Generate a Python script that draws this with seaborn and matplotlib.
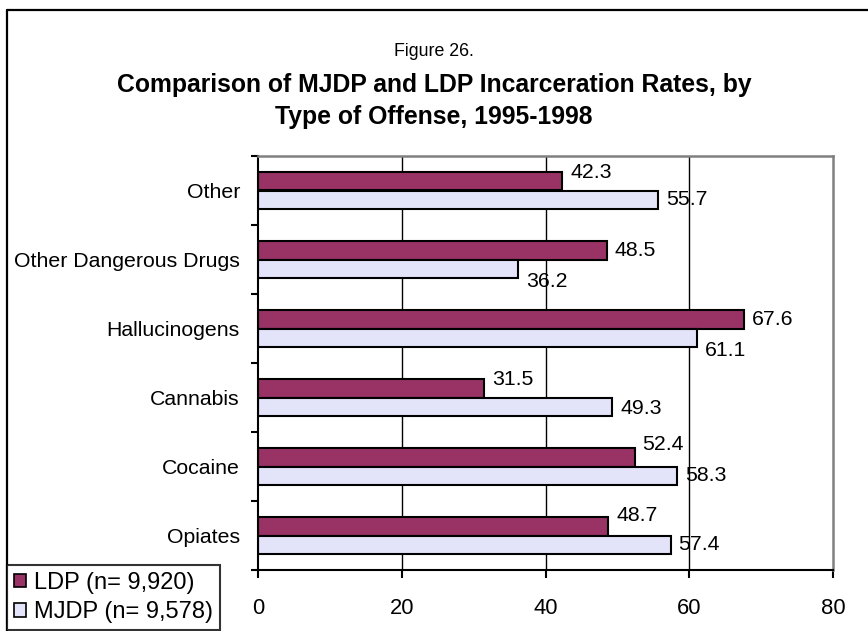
import matplotlib
matplotlib.use("Agg")
import matplotlib.pyplot as plt
from matplotlib.lines import Line2D
from matplotlib.ticker import FixedLocator
import pandas as pd
import seaborn as sns

# Incarceration rates (%) by type of offense
offenses = ["Other", "Other Dangerous Drugs", "Hallucinogens",
            "Cannabis", "Cocaine", "Opiates"]
ldp_rates = [42.3, 48.5, 67.6, 31.5, 52.4, 48.7]
mjdp_rates = [55.7, 36.2, 61.1, 49.3, 58.3, 57.4]
series_names = ["LDP (n= 9,920)", "MJDP (n= 9,578)"]
x_ticks = [0, 20, 40, 60, 80]

# vertical nudges (pixels, down is positive) that keep value labels apart
ldp_label_shift = [-9, 0, 0, -9, -13, -11]
mjdp_label_shift = [0, 13, 13, 2, 0, 0]

df = pd.DataFrame({
    "Offense": offenses * 2,
    "Rate": ldp_rates + mjdp_rates,
    "Program": [series_names[0]] * len(offenses) + [series_names[1]] * len(offenses),
})

sns.set_theme(style="white")
plt.rcParams["font.family"] = ["Liberation Sans", "DejaVu Sans"]
plt.rcParams.update({"text.color": "black", "axes.labelcolor": "black",
                     "xtick.color": "black", "ytick.color": "black"})

W, H = 868, 631
fig = plt.figure(figsize=(W / 100, H / 100), dpi=100)
ax = fig.add_axes([258 / W, 1 - 570 / H, (833 - 258) / W, (570 - 156) / H])

palette = {series_names[0]: "#993366", series_names[1]: "#E3E3FA"}
sns.barplot(data=df, y="Offense", x="Rate", hue="Program", order=offenses,
            hue_order=series_names, palette=palette, orient="h", width=0.55,
            edgecolor="black", linewidth=1.5, saturation=1, ax=ax)

handles, labels = ax.get_legend_handles_labels()
if ax.get_legend() is not None:
    ax.get_legend().remove()

ax.set_xlim(0, 80)
ax.set_ylim(len(offenses) - 0.5, -0.5)
ax.set_xticks(x_ticks)
ax.set_xticklabels([str(t) for t in x_ticks], fontsize=15.8)
ax.set_xlabel("")
ax.set_ylabel("")
ax.tick_params(axis="y", which="major", length=0, pad=13, labelsize=15.3,
               labelcolor="black")
ax.yaxis.set_minor_locator(FixedLocator([i - 0.5 for i in range(len(offenses) + 1)]))
ax.tick_params(axis="y", which="minor", left=True, length=5, width=1.5,
               direction="out", color="black")
ax.tick_params(axis="x", which="major", bottom=True, length=6, width=1.5,
               direction="out", color="black", pad=14, labelcolor="black")

for g in x_ticks[1:-1]:
    ax.axvline(g, color="black", lw=1.0, zorder=0)

for side in ("left", "bottom"):
    ax.spines[side].set_color("black")
    ax.spines[side].set_linewidth(1.5)
for side in ("top", "right"):
    ax.spines[side].set_color("#808080")
    ax.spines[side].set_linewidth(1.8)

# value labels to the right of each bar
for container, values, shifts in zip(ax.containers, [ldp_rates, mjdp_rates],
                                     [ldp_label_shift, mjdp_label_shift]):
    for bar, v, s in zip(container.patches, values, shifts):
        yc = bar.get_y() + bar.get_height() / 2
        ax.annotate(f"{v:.1f}", xy=(v, yc), xytext=(8, -s),
                    textcoords="offset pixels", ha="left", va="center",
                    fontsize=15.3, color="black")

# titles
xc = 0.5 * (117 + 751) / W
fig.text(xc, 1 - 52 / H, "Figure 26.", ha="center", va="center",
         fontsize=12.8, color="black")
fig.text(xc, 1 - 85 / H, "Comparison of MJDP and LDP Incarceration Rates, by",
         ha="center", va="center", fontsize=17.8, fontweight="bold",
         color="black")
fig.text(xc, 1 - 117 / H, "Type of Offense, 1995-1998", ha="center",
         va="center", fontsize=17.8, fontweight="bold", color="black")

# outer frame (runs off the right and bottom edges)
fig.add_artist(Line2D([7 / W, 1.01], [1 - 10 / H, 1 - 10 / H],
                      transform=fig.transFigure, color="black", lw=1.6))
fig.add_artist(Line2D([7 / W, 7 / W], [1 - 10 / H, -0.01],
                      transform=fig.transFigure, color="black", lw=1.6))

leg = fig.legend(handles, labels, loc="upper left",
                 bbox_to_anchor=(7 / W, 1 - 565 / H), borderaxespad=0,
                 frameon=True, fancybox=False, fontsize=17,
                 handlelength=0.5, handleheight=0.5, handletextpad=0.35,
                 labelspacing=0.3, borderpad=0.3)
leg.get_frame().set_edgecolor("black")
leg.get_frame().set_linewidth(1.5)
for h in leg.legend_handles:
    h.set_edgecolor("black")
    h.set_linewidth(1.2)

fig.savefig("out.png", dpi=100)
